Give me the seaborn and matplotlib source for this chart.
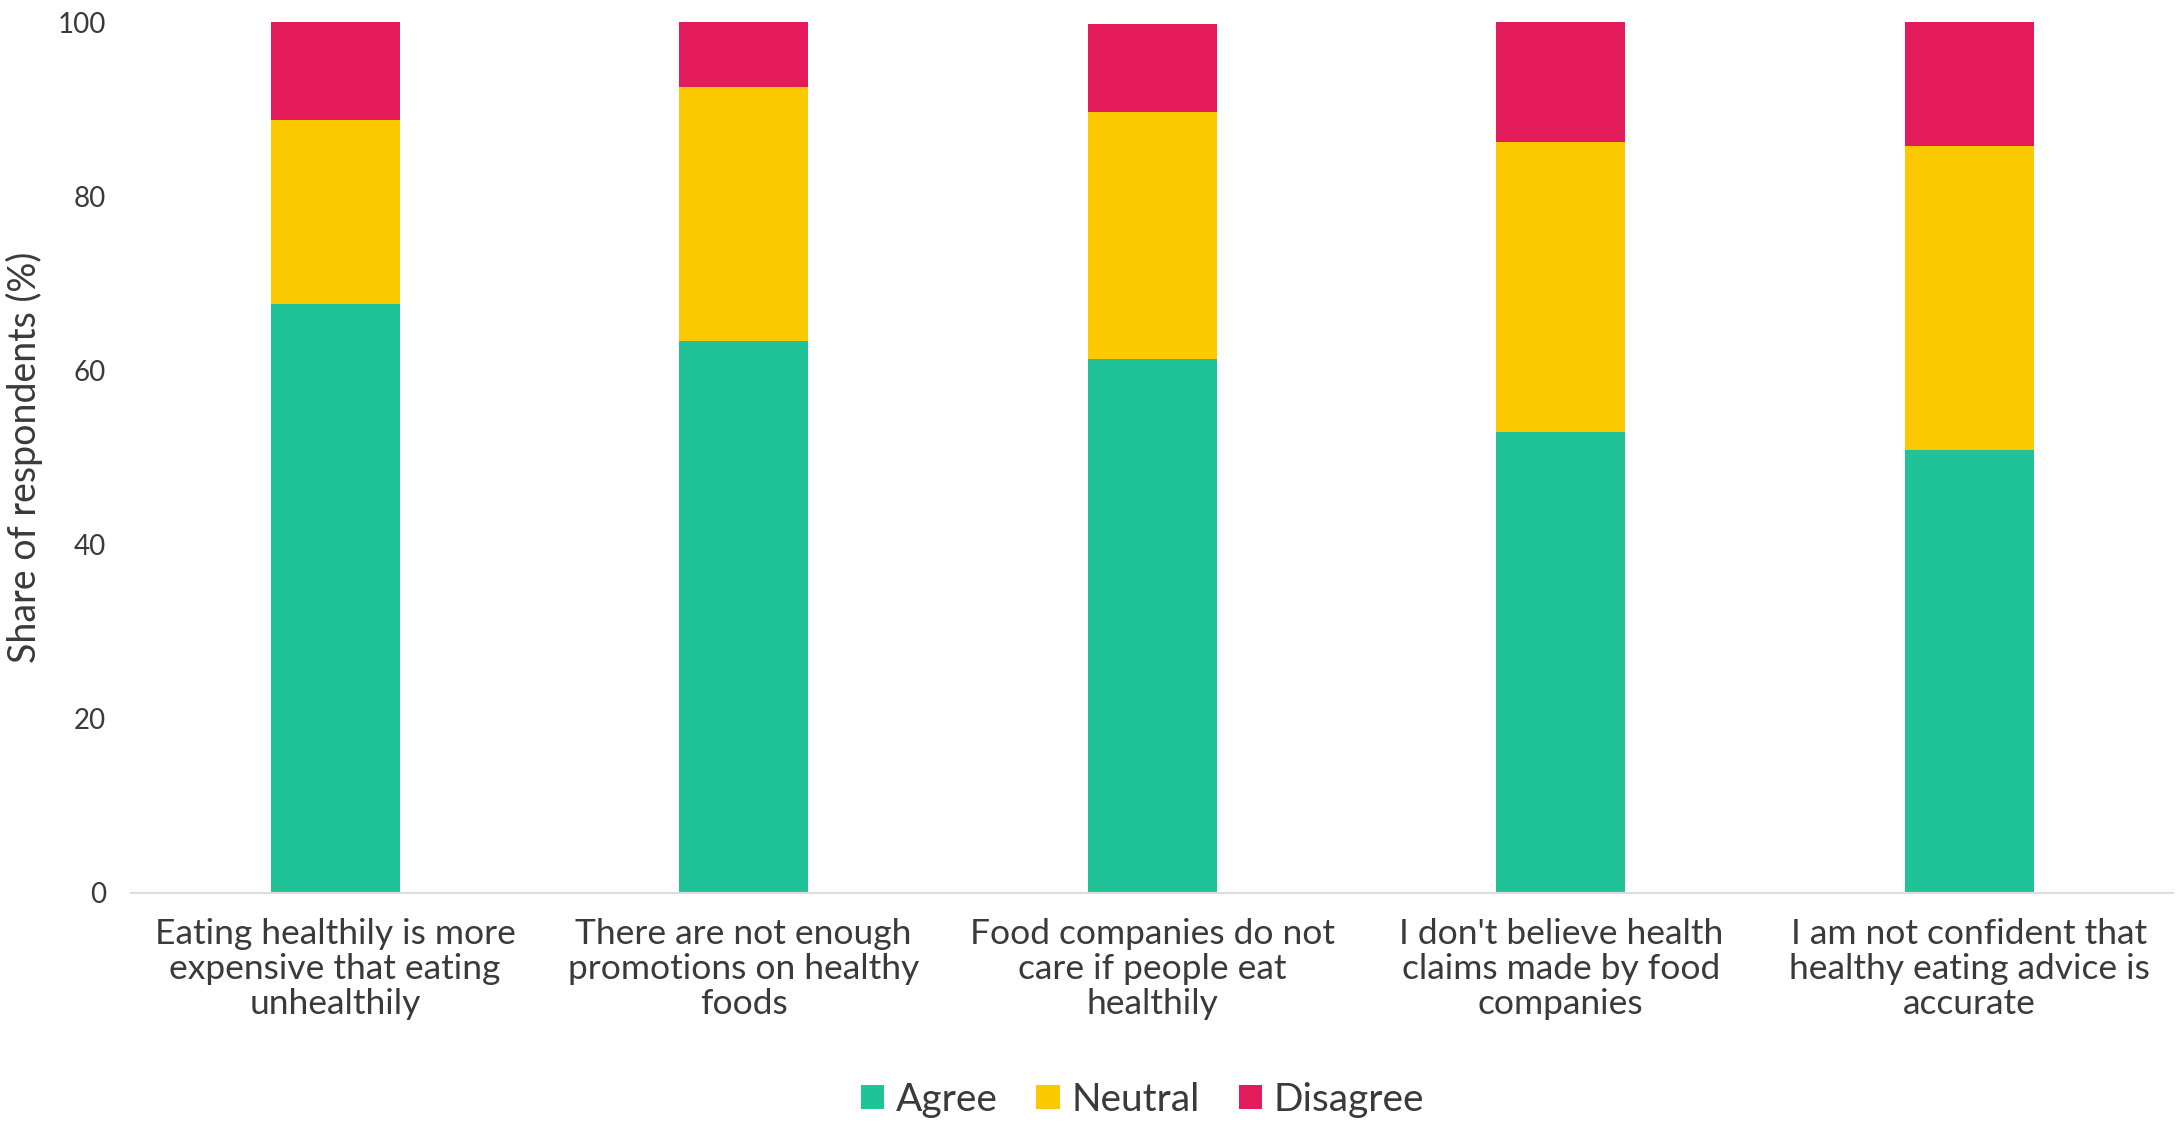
import matplotlib
matplotlib.use("Agg")
import matplotlib.pyplot as plt
import seaborn as sns
import pandas as pd
from matplotlib.patches import Patch

categories = [
    "Eating healthily is more\nexpensive that eating\nunhealthily",
    "There are not enough\npromotions on healthy\nfoods",
    "Food companies do not\ncare if people eat\nhealthily",
    "I don't believe health\nclaims made by food\ncompanies",
    "I am not confident that\nhealthy eating advice is\naccurate",
]
agree = [67.6, 63.4, 61.3, 52.9, 50.9]
neutral = [21.2, 29.2, 28.4, 33.4, 34.9]
disagree = [11.2, 7.4, 10.1, 13.7, 14.2]
series_names = ["Agree", "Neutral", "Disagree"]
colors = ["#20C397", "#FCC900", "#E31B5A"]

sns.set_theme(style="white")
plt.rcParams["font.family"] = ["Lato", "DejaVu Sans"]
text_color = "#3a3a3a"

df = pd.DataFrame({"cat": categories, "Agree": agree, "Neutral": neutral, "Disagree": disagree})

fig = plt.figure(figsize=(21.8, 11.21), dpi=100)
ax = fig.add_axes([0.060, 0.2034, 0.937, 0.7766])

bottom = [0.0] * len(categories)
for name, col in zip(series_names, colors):
    vals = df[name].tolist()
    sns.barplot(x=df["cat"], y=df[name], ax=ax, color=col, width=0.316,
                bottom=bottom, saturation=1, edgecolor="none", linewidth=0)
    bottom = [b + v for b, v in zip(bottom, vals)]

ax.set_ylim(0, 100)
ax.set_xlim(-0.5, 4.5)
ax.set_yticks([0, 20, 40, 60, 80, 100])
ax.tick_params(axis="y", length=0, pad=18, labelsize=20, labelcolor=text_color)
ax.tick_params(axis="x", length=0, pad=18, labelsize=25.5, labelcolor=text_color)
for lbl in ax.get_xticklabels():
    lbl.set_horizontalalignment("center")
    lbl.set_multialignment("center")
    lbl.set_linespacing(1.12)
ax.set_xlabel("")
ax.set_ylabel("Share of respondents (%)", fontsize=27, color=text_color)
ax.yaxis.set_label_coords(-0.043, 0.5)
for s in ["top", "right", "left"]:
    ax.spines[s].set_visible(False)
ax.spines["bottom"].set_color("#dddddd")
ax.spines["bottom"].set_linewidth(1.5)

handles = [Patch(facecolor=c, edgecolor="none", label=n) for n, c in zip(series_names, colors)]
fig.legend(handles=handles, loc="center", bbox_to_anchor=(0.524, 0.019), ncol=3,
           frameon=False, fontsize=28, labelcolor=text_color, handlelength=0.6,
           handleheight=0.6, handletextpad=0.3, columnspacing=1.0)

fig.savefig("out.png", dpi=100)
